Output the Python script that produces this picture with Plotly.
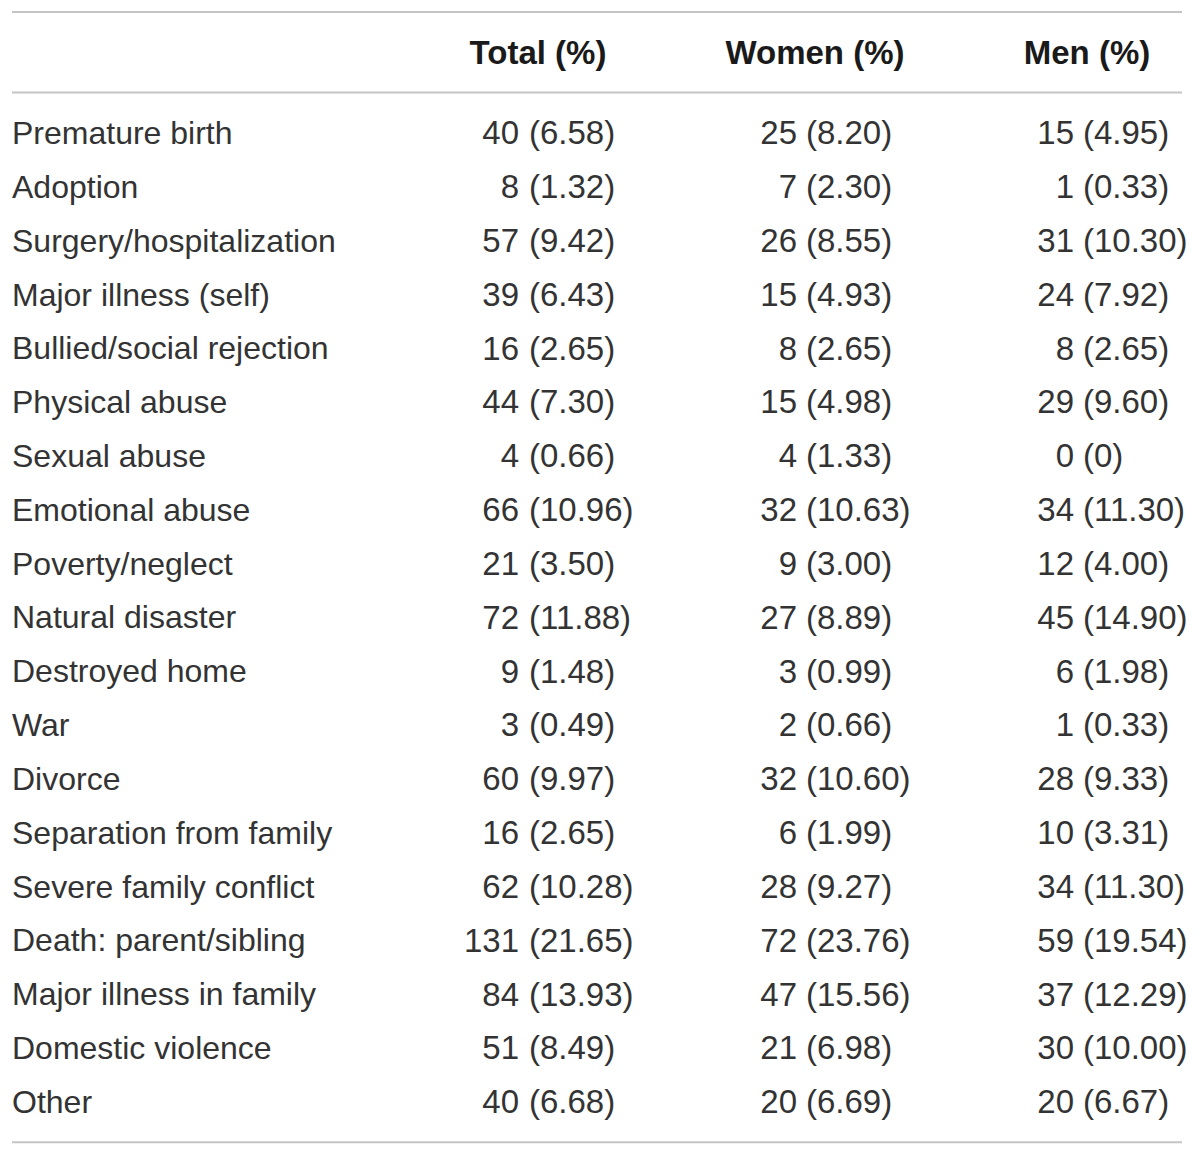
import plotly.graph_objects as go

# datos de la tabla (conteos y porcentajes tal como aparecen)
eventos = [
    "Premature birth", "Adoption", "Surgery/hospitalization", "Major illness (self)",
    "Bullied/social rejection", "Physical abuse", "Sexual abuse", "Emotional abuse",
    "Poverty/neglect", "Natural disaster", "Destroyed home", "War", "Divorce",
    "Separation from family", "Severe family conflict", "Death: parent/sibling",
    "Major illness in family", "Domestic violence", "Other",
]
total_n = [40, 8, 57, 39, 16, 44, 4, 66, 21, 72, 9, 3, 60, 16, 62, 131, 84, 51, 40]
total_pct = ["6.58", "1.32", "9.42", "6.43", "2.65", "7.30", "0.66", "10.96", "3.50", "11.88",
             "1.48", "0.49", "9.97", "2.65", "10.28", "21.65", "13.93", "8.49", "6.68"]
women_n = [25, 7, 26, 15, 8, 15, 4, 32, 9, 27, 3, 2, 32, 6, 28, 72, 47, 21, 20]
women_pct = ["8.20", "2.30", "8.55", "4.93", "2.65", "4.98", "1.33", "10.63", "3.00", "8.89",
             "0.99", "0.66", "10.60", "1.99", "9.27", "23.76", "15.56", "6.98", "6.69"]
men_n = [15, 1, 31, 24, 8, 29, 0, 34, 12, 45, 6, 1, 28, 10, 34, 59, 37, 30, 20]
men_pct = ["4.95", "0.33", "10.30", "7.92", "2.65", "9.60", "0", "11.30", "4.00", "14.90",
           "1.98", "0.33", "9.33", "3.31", "11.30", "19.54", "12.29", "10.00", "6.67"]
encabezados = ["Total (%)", "Women (%)", "Men (%)"]

# posiciones de columnas (px de la pagina): fin del conteo, inicio del parentesis, centro del encabezado
x_conteo = [519, 797, 1074]
x_paren = [529, 806, 1083]
x_encabezado = [538, 815, 1087]
x_etiqueta = 12

fuente = dict(family="Liberation Sans", size=32, color="#333333")
fuente_num = dict(family="Liberation Sans", size=33, color="#333333")
fuente_enc = dict(family="Liberation Sans", size=33, color="#1a1a1a")
filas = list(range(len(eventos)))

fig = go.Figure()

fig.add_trace(go.Scatter(
    x=[x_etiqueta] * len(eventos), y=filas, text=eventos,
    mode="text", textposition="middle right", textfont=fuente,
))

columnas = [(total_n, total_pct), (women_n, women_pct), (men_n, men_pct)]
for k, (n, pct) in enumerate(columnas):
    fig.add_trace(go.Scatter(
        x=[x_conteo[k]] * len(n), y=filas, text=[str(v) for v in n],
        mode="text", textposition="middle left", textfont=fuente_num,
    ))
    fig.add_trace(go.Scatter(
        x=[x_paren[k]] * len(pct), y=filas, text=["(" + p + ")" for p in pct],
        mode="text", textposition="middle right", textfont=fuente_num,
    ))

fig.add_trace(go.Scatter(
    x=x_encabezado, y=[-1.5] * 3, text=["<b>" + h + "</b>" for h in encabezados],
    mode="text", textposition="middle center", textfont=fuente_enc,
))

# lineas horizontales de la tabla
for y0 in [-2.306, -0.806, 18.694]:
    fig.add_shape(type="line", xref="x", yref="y", x0=12, x1=1182, y0=y0, y1=y0,
                  line=dict(color="#c4c4c4", width=2))

# la pagina tiene 8px de margen, el eje x va en px de la pagina
fig.update_layout(
    width=1192, height=1148,
    margin=dict(l=0, r=0, t=0, b=0),
    paper_bgcolor="white", plot_bgcolor="white",
    showlegend=False,
    xaxis=dict(range=[8, 1200], visible=False, fixedrange=True),
    yaxis=dict(range=[18.948, -2.378], visible=False, fixedrange=True),
)

fig.write_html("out.html")
